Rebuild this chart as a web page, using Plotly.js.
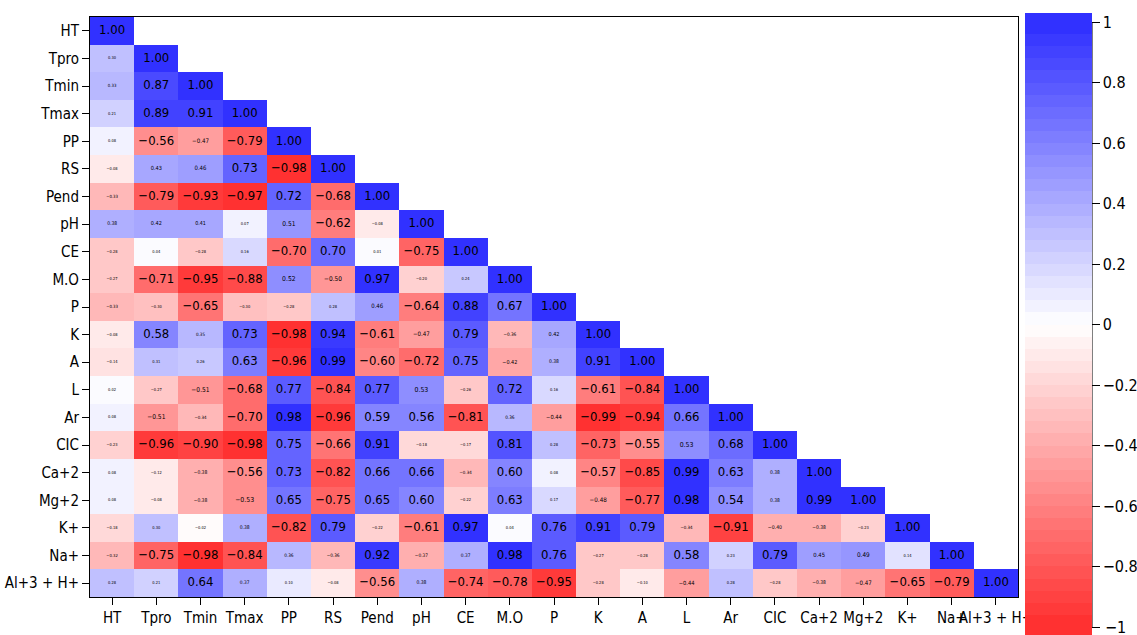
<!DOCTYPE html>
<html>
<head>
<meta charset="utf-8">
<script src="https://cdn.plot.ly/plotly-3.0.1.min.js"></script>
<style>html,body{margin:0;padding:0;background:#fff;}#chart{width:1137px;height:635px;}</style>
</head>
<body>
<div id="chart"></div>
<script>
const variables = ["HT","Tpro","Tmin","Tmax","PP","RS","Pend","pH","CE","M.O","P","K","A","L","Ar","CIC","Ca+2","Mg+2","K+","Na+","Al+3 + H+"];

// Lower-triangle correlation rows (row i has i+1 values)
const rowHT   = [1.00];
const rowTpro = [0.30, 1.00];
const rowTmin = [0.33, 0.87, 1.00];
const rowTmax = [0.21, 0.89, 0.91, 1.00];
const rowPP   = [0.08, -0.56, -0.47, -0.79, 1.00];
const rowRS   = [-0.08, 0.43, 0.46, 0.73, -0.98, 1.00];
const rowPend = [-0.33, -0.79, -0.93, -0.97, 0.72, -0.68, 1.00];
const rowpH   = [0.38, 0.42, 0.41, 0.07, 0.51, -0.62, -0.08, 1.00];
const rowCE   = [-0.28, 0.04, -0.28, 0.16, -0.70, 0.70, 0.01, -0.75, 1.00];
const rowMO   = [-0.27, -0.71, -0.95, -0.88, 0.52, -0.50, 0.97, -0.20, 0.24, 1.00];
const rowP    = [-0.33, -0.30, -0.65, -0.30, -0.28, 0.28, 0.46, -0.64, 0.88, 0.67, 1.00];
const rowK    = [-0.08, 0.58, 0.35, 0.73, -0.98, 0.94, -0.61, -0.47, 0.79, -0.36, 0.42, 1.00];
const rowA    = [-0.14, 0.31, 0.26, 0.63, -0.96, 0.99, -0.60, -0.72, 0.75, -0.42, 0.38, 0.91, 1.00];
const rowL    = [0.02, -0.27, -0.51, -0.68, 0.77, -0.84, 0.77, 0.53, -0.26, 0.72, 0.16, -0.61, -0.84, 1.00];
const rowAr   = [0.08, -0.51, -0.34, -0.70, 0.98, -0.96, 0.59, 0.56, -0.81, 0.36, -0.44, -0.99, -0.94, 0.66, 1.00];
const rowCIC  = [-0.23, -0.96, -0.90, -0.98, 0.75, -0.66, 0.91, -0.18, -0.17, 0.81, 0.28, -0.73, -0.55, 0.53, 0.68, 1.00];
const rowCa   = [0.08, -0.12, -0.38, -0.56, 0.73, -0.82, 0.66, 0.66, -0.34, 0.60, 0.08, -0.57, -0.85, 0.99, 0.63, 0.38, 1.00];
const rowMg   = [0.08, -0.08, -0.38, -0.53, 0.65, -0.75, 0.65, 0.60, -0.22, 0.63, 0.17, -0.48, -0.77, 0.98, 0.54, 0.38, 0.99, 1.00];
const rowKp   = [-0.18, 0.30, -0.02, 0.38, -0.82, 0.79, -0.22, -0.61, 0.97, 0.04, 0.76, 0.91, 0.79, -0.34, -0.91, -0.40, -0.38, -0.23, 1.00];
const rowNa   = [-0.32, -0.75, -0.98, -0.84, 0.36, -0.36, 0.92, -0.37, 0.37, 0.98, 0.76, -0.27, -0.28, 0.58, 0.23, 0.79, 0.45, 0.49, 0.14, 1.00];
const rowAl   = [0.28, 0.21, 0.64, 0.37, 0.10, -0.08, -0.56, 0.38, -0.74, -0.78, -0.95, -0.28, -0.10, -0.44, 0.28, -0.28, -0.38, -0.47, -0.65, -0.79, 1.00];

const rows = [rowHT,rowTpro,rowTmin,rowTmax,rowPP,rowRS,rowPend,rowpH,rowCE,rowMO,rowP,rowK,rowA,rowL,rowAr,rowCIC,rowCa,rowMg,rowKp,rowNa,rowAl];
const colorbarTicks = [-1,-0.8,-0.6,-0.4,-0.2,0,0.2,0.4,0.6,0.8,1];

const n = variables.length;
const z = rows.map(r => { const a = r.slice(); while (a.length < n) a.push(null); return a; });

const tx = [], ty = [], tt = [], ts = [];
rows.forEach((r, i) => r.forEach((v, j) => {
  tx.push(variables[j]); ty.push(variables[i]);
  tt.push(v.toFixed(2).replace('-', '\u2212'));
  const a = Math.abs(v);
  ts.push(a >= 0.535 ? 13 : Math.max(4, 13 * a));
}));

const NB = 50;
function colAt(v) {
  const red = [255, 45, 45], blue = [45, 45, 255];
  const e = v < 0 ? red : blue, t = Math.abs(v);
  const c = [0,1,2].map(k => Math.round(255 + (e[k] - 255) * t));
  return 'rgb(' + c.join(',') + ')';
}
const cs = [];
for (let i = 0; i < NB; i++) {
  const center = -1 + (i + 0.5) * 2 / NB;
  const c = colAt(center);
  cs.push([i / NB, c]); cs.push([(i + 1) / NB, c]);
}

const font = '"DejaVu Sans Condensed", "Liberation Sans Narrow", "Arial Narrow", "Liberation Sans", Arial, sans-serif';

const PL = 90, PR = 1018, PT = 17, PB = 597;
const PW = PR - PL, PH = PB - PT;
const CB0 = 1025, CB1 = 1092, CBTOP = 22, CBBOT = 627;
const px = v => (v - PL) / PW, py = v => (PB - v) / PH;

const heat = {
  type: 'heatmap', x: variables, y: variables, z: z,
  zmin: -1, zmax: 1, colorscale: cs, hoverongaps: false,
  colorbar: {
    x: px(CB0), xanchor: 'left', xpad: 0,
    y: py(CBBOT), yanchor: 'bottom', ypad: 0,
    lenmode: 'pixels', len: CBBOT - CBTOP,
    thickness: CB1 - CB0, thicknessmode: 'pixels',
    outlinewidth: 0,
    tickvals: colorbarTicks,
    ticks: 'outside', ticklen: 8, tickcolor: '#000',
    tickfont: {family: font, size: 16, color: '#000'}
  }
};

const labels = {
  type: 'scatter', mode: 'text', x: tx, y: ty, text: tt,
  textfont: {family: font, size: ts, color: '#000'},
  hoverinfo: 'skip', showlegend: false, cliponaxis: false
};

const layout = {
  width: 1137, height: 635,
  margin: {l: PL, r: 1137 - PR, t: PT, b: 635 - PB, autoexpand: false},
  paper_bgcolor: '#fff', plot_bgcolor: '#fff',
  showlegend: false,
  xaxis: {
    type: 'category', categoryorder: 'array', categoryarray: variables,
    range: [-0.5, n - 0.5], autorange: false, automargin: false,
    showgrid: false, zeroline: false,
    showline: true, linecolor: '#000', linewidth: 1, mirror: true,
    ticks: 'outside', ticklen: 7, tickcolor: '#000',
    tickfont: {family: font, size: 15, color: '#000'}, tickangle: 0
  },
  yaxis: {
    type: 'category', categoryorder: 'array', categoryarray: variables,
    range: [n - 0.5, -0.5], autorange: false, automargin: false,
    showgrid: false, zeroline: false,
    showline: true, linecolor: '#000', linewidth: 1, mirror: true,
    ticks: 'outside', ticklen: 7, tickcolor: '#000',
    tickfont: {family: font, size: 15, color: '#000'}
  },
  shapes: [
    {type: 'rect', xref: 'paper', yref: 'paper', x0: px(CB0), x1: px(CB1), y0: py(CBTOP), y1: py(13),
     fillcolor: colAt(0.98), line: {width: 0}, layer: 'above'},
    {type: 'rect', xref: 'paper', yref: 'paper', x0: px(CB0), x1: px(CB1), y0: py(640), y1: py(CBBOT),
     fillcolor: colAt(-0.98), line: {width: 0}, layer: 'above'},
    {type: 'line', xref: 'paper', yref: 'paper', x0: px(CB1), x1: px(CB1), y0: py(CBBOT), y1: py(CBTOP),
     line: {color: '#000', width: 1}}
  ],
  annotations: [
    {xref: 'paper', yref: 'paper', x: px(CB1 + 11), y: py(CBBOT), xanchor: 'left', yanchor: 'middle',
     text: '\u22121', showarrow: false, font: {family: font, size: 16, color: '#000'}}
  ]
};

Plotly.newPlot('chart', [heat, labels], layout, {displayModeBar: false, staticPlot: true});
</script>
</body>
</html>
